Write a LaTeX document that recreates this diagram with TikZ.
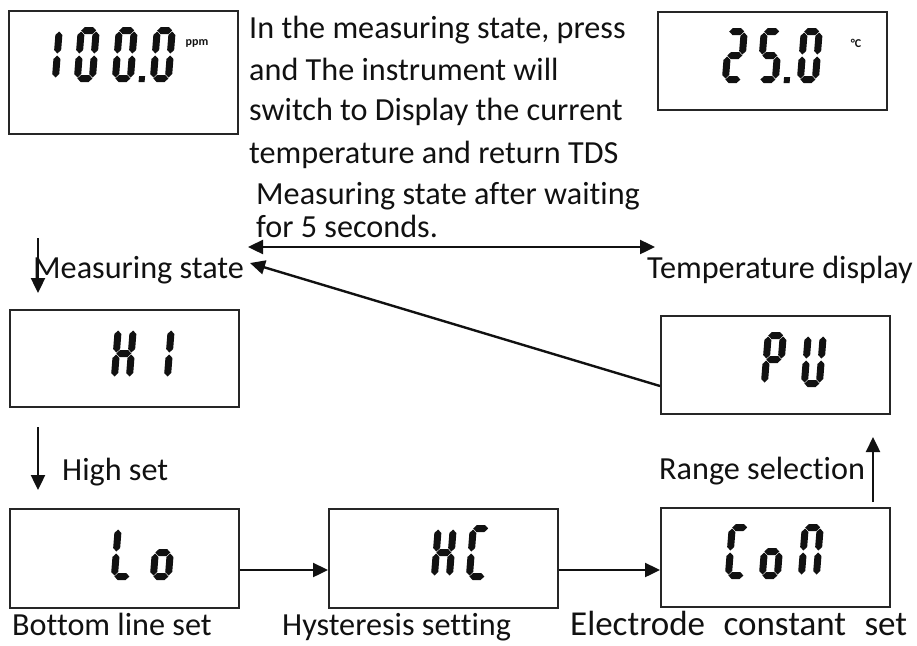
\documentclass[tikz,border=0pt]{standalone}
\usepackage{fontspec}
\setmainfont{Carlito}[Ligatures={NoCommon}]
\usepackage{tikz}
\usetikzlibrary{positioning, arrows.meta, calc}

\definecolor{lcdInk}{HTML}{111111}
\definecolor{lcdLine}{HTML}{262626}

% seven segment pieces, cell 22 x 55, y runs down
\newcommand{\lcdsega}{\fill (3.5,3.5) -- (7,0) -- (15,0) -- (18.5,3.5) -- (15,7) -- (7,7) -- cycle;}
\newcommand{\lcdsegb}{\fill (18.5,4.5) -- (22,8) -- (22,23) -- (18.5,26.5) -- (15,23) -- (15,8) -- cycle;}
\newcommand{\lcdsegc}{\fill (18.5,28.5) -- (22,32) -- (22,47) -- (18.5,50.5) -- (15,47) -- (15,32) -- cycle;}
\newcommand{\lcdsegd}{\fill (3.5,51.5) -- (7,48) -- (15,48) -- (18.5,51.5) -- (15,55) -- (7,55) -- cycle;}
\newcommand{\lcdsege}{\fill (3.5,28.5) -- (7,32) -- (7,47) -- (3.5,50.5) -- (0,47) -- (0,32) -- cycle;}
\newcommand{\lcdsegf}{\fill (3.5,4.5) -- (7,8) -- (7,23) -- (3.5,26.5) -- (0,23) -- (0,8) -- cycle;}
\newcommand{\lcdsegg}{\fill (3.5,27.5) -- (7,24) -- (15,24) -- (18.5,27.5) -- (15,31) -- (7,31) -- cycle;}
\newcommand{\lcdsegp}{\fill (27,49) rectangle (33,55);}
\newcommand{\lcdglyph}[3]{%
  \begin{scope}[shift={($(#1.north west)+(#2,17)$)}, xslant=0.08, lcdInk]
    \foreach \sg in {#3} {\csname lcdseg\sg\endcsname}
  \end{scope}}

\tikzset{
  flowtip/.tip={Triangle[length=15pt, width=14pt]},
  lcdbox/.style={draw=lcdLine, line width=2pt, minimum width=229pt, inner sep=0pt, anchor=north west},
  lbl/.style={inner sep=0pt, anchor=base west},
  unit/.style={inner sep=0pt, font=\fontsize{12}{12}\selectfont\bfseries},
  flow/.style={draw=lcdInk, line width=2.4pt, -flowtip}
}

\begin{document}
\begin{tikzpicture}[x=1pt, y=-1pt, font=\fontsize{32.2}{38}\selectfont, text=lcdInk]
  \useasboundingbox (0,0) rectangle (917,645);

  % display boxes
  \node[lcdbox, minimum height=123pt] (meas) at (8,10) {};
  \node[lcdbox, minimum height=98pt] (temp) at (657,11) {};
  \node[lcdbox, minimum height=97pt] (hiset) at (9,309) {};
  \node[lcdbox, minimum height=98pt] (range) at (660,315) {};
  \node[lcdbox, minimum height=99pt] (loset) at (9,508) {};
  \node[lcdbox, minimum height=99pt] (hyst) at (328,508) {};
  \node[lcdbox, minimum height=99pt] (elec) at (660,507) {};

  % readouts
  \lcdglyph{meas}{33}{b,c}
  \lcdglyph{meas}{70}{a,b,c,d,e,f}
  \lcdglyph{meas}{108}{a,b,c,d,e,f,p}
  \lcdglyph{meas}{146}{a,b,c,d,e,f}
  \lcdglyph{temp}{69}{a,b,g,e,d}
  \lcdglyph{temp}{104}{a,f,g,c,d,p}
  \lcdglyph{temp}{144}{a,b,c,d,e,f}
  \lcdglyph{hiset}{106}{b,c,e,f,g}
  \lcdglyph{hiset}{144}{b,c}
  \lcdglyph{range}{105}{a,b,e,f,g}
  \lcdglyph{range}{145}{b,c,d,e,f}
  \lcdglyph{loset}{106}{d,e,f}
  \lcdglyph{loset}{145}{c,d,e,g}
  \lcdglyph{hyst}{107}{b,c,e,f,g}
  \lcdglyph{hyst}{142}{a,d,e,f}
  \lcdglyph{elec}{69}{a,d,e,f}
  \lcdglyph{elec}{103}{c,d,e,g}
  \lcdglyph{elec}{142}{a,b,c,e,f}
  \node[unit] (ppm) at (197,43) {ppm};
  \node[unit] (degc) at (856,43) {°C};

  % note
  \node[lbl] (note1) at (249,38) {In the measuring state, press};
  \node[lbl] (note2) at (249,80) {and The instrument will};
  \node[lbl] (note3) at (249,120) {switch to Display the current};
  \node[lbl] (note4) at (249,163) {temperature and return TDS};
  \node[lbl] (note5) at (256,204) {Measuring state after waiting};
  \node[lbl] (note6) at (256,237) {for 5 seconds.};

  % captions
  \node[lbl] (msLbl) at (33,278) {Measuring state};
  \node[lbl] (tdLbl) at (647,278) {Temperature display};
  \node[lbl] (hsLbl) at (62,480) {High set};
  \node[lbl] (rsLbl) at (659,479) {Range selection};
  \node[lbl] (blLbl) at (12,635) {Bottom line set};
  \node[lbl] (hyLbl) at (282,635) {Hysteresis setting};
  \node[lbl, font=\fontsize{35}{40}\selectfont] (ecLbl) at (570,635) {\makebox[337pt][s]{Electrode constant set}};

  % connectors
  \coordinate (dblL) at (248,247);
  \coordinate (dblR) at (655,247);
  \coordinate (backTip) at (250,263);
  \coordinate (backTail) at ([yshift=-21pt]range.west);
  \coordinate (msTop) at (38,238);
  \coordinate (msBot) at (38,293);
  \coordinate (hiBot) at (38,427);
  \coordinate (loTop) at (38,490);
  \coordinate (upFrom) at (873,502);
  \coordinate (upTo) at (873,437);

  \draw[flow, flowtip-flowtip] (dblL) -- (dblR);
  \draw[flow] (backTail) -- (backTip);
  \draw[flow] (msTop) -- (msBot);
  \draw[flow] (hiBot) -- (loTop);
  \draw[flow] ([yshift=-11.5pt]loset.east) -- ([yshift=-11.5pt]hyst.west);
  \draw[flow] ([yshift=-11.5pt]hyst.east) -- ([yshift=-11.5pt]hyst.east -| elec.west);
  \draw[flow] (upFrom) -- (upTo);
\end{tikzpicture}
\end{document}
